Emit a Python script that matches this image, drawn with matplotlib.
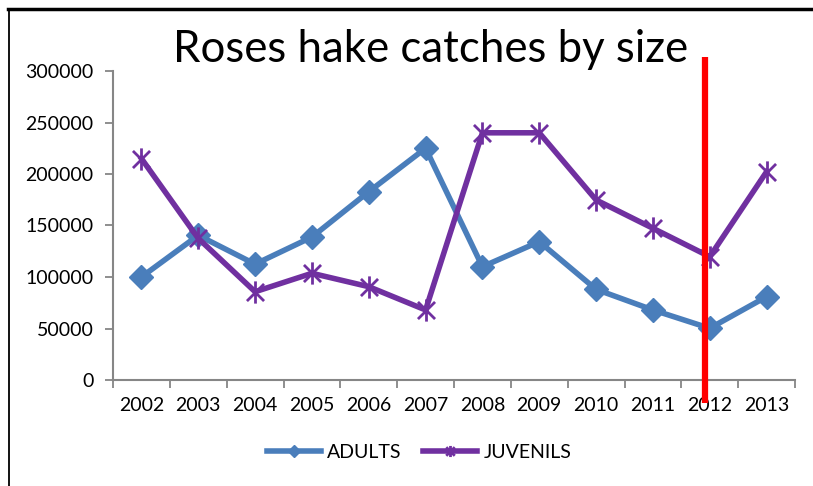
import matplotlib.pyplot as plt
from matplotlib.path import Path
from matplotlib.lines import Line2D

years = ['2002', '2003', '2004', '2005', '2006', '2007',
         '2008', '2009', '2010', '2011', '2012', '2013']
adults = [100000, 140500, 112500, 138800, 182800, 225000,
          110000, 134300, 88000, 68000, 50200, 80900]
juvenils = [215000, 137500, 85700, 103600, 90600, 68000,
            240000, 240000, 174800, 147300, 119700, 202200]
yticks = [0, 50000, 100000, 150000, 200000, 250000, 300000]

plt.rcParams['font.family'] = ['Lato', 'DejaVu Sans']

# excel style star marker: X with a vertical bar
star = Path([(-1, -1), (1, 1), (-1, 1), (1, -1), (0, -1.3), (0, 1.3)],
            [Path.MOVETO, Path.LINETO, Path.MOVETO, Path.LINETO, Path.MOVETO, Path.LINETO])

fig = plt.figure(figsize=(8.13, 4.86), dpi=100)
ax = fig.add_axes([113 / 813, 106 / 486, 682 / 813, 309 / 486])

x = list(range(len(years)))
ax.plot(x, adults, color='#4A7EBB', lw=4, marker='D', ms=12,
        markerfacecolor='#4A7EBB', markeredgecolor='#4A7EBB', label='ADULTS', zorder=3)
ax.plot(x, juvenils, color='#7030A0', lw=4, marker=star, ms=16, mew=2,
        markerfacecolor='none', markeredgecolor='#7030A0', label='JUVENILS', zorder=3)

# red marker line around 2012
ax.plot([9.91, 9.91], [313600, -22300], color='#FF0000', lw=4.5,
        clip_on=False, zorder=5, solid_capstyle='butt')

ax.set_xlim(-0.5, len(years) - 0.5)
ax.set_ylim(0, 300000)
ax.set_yticks(yticks)
ax.set_yticklabels([str(v) for v in yticks])
ax.set_xticks([i - 0.5 for i in range(len(years) + 1)])
ax.set_xticklabels([])
ax.set_xticks(x, minor=True)
ax.set_xticklabels(years, minor=True)
ax.tick_params(axis='x', which='minor', length=0, pad=12, labelsize=14)
ax.tick_params(axis='x', which='major', length=6, color='#868686', width=1.3)
ax.tick_params(axis='y', length=6, color='#868686', width=1.3, labelsize=14, pad=8)

for s in ['top', 'right']:
    ax.spines[s].set_visible(False)
for s in ['left', 'bottom']:
    ax.spines[s].set_color('#868686')
    ax.spines[s].set_linewidth(1.5)

fig.text(431 / 813, 1 - 50 / 486, 'Roses hake catches by size', fontsize=31.5,
         ha='center', va='center')

# chart border (top and left edges only visible)
fig.add_artist(Line2D([8 / 813, 1], [1 - 9 / 486, 1 - 9 / 486], color='black', lw=2.5))
fig.add_artist(Line2D([9 / 813, 9 / 813], [0, 1 - 9 / 486], color='black', lw=1.3))

fig.legend(loc='center', bbox_to_anchor=(419 / 813, 1 - 452 / 486), ncol=2,
           frameon=False, fontsize=14, handlelength=2.8, columnspacing=1.1,
           handletextpad=0.3, markerscale=0.5)

fig.savefig('out.png', dpi=100)
